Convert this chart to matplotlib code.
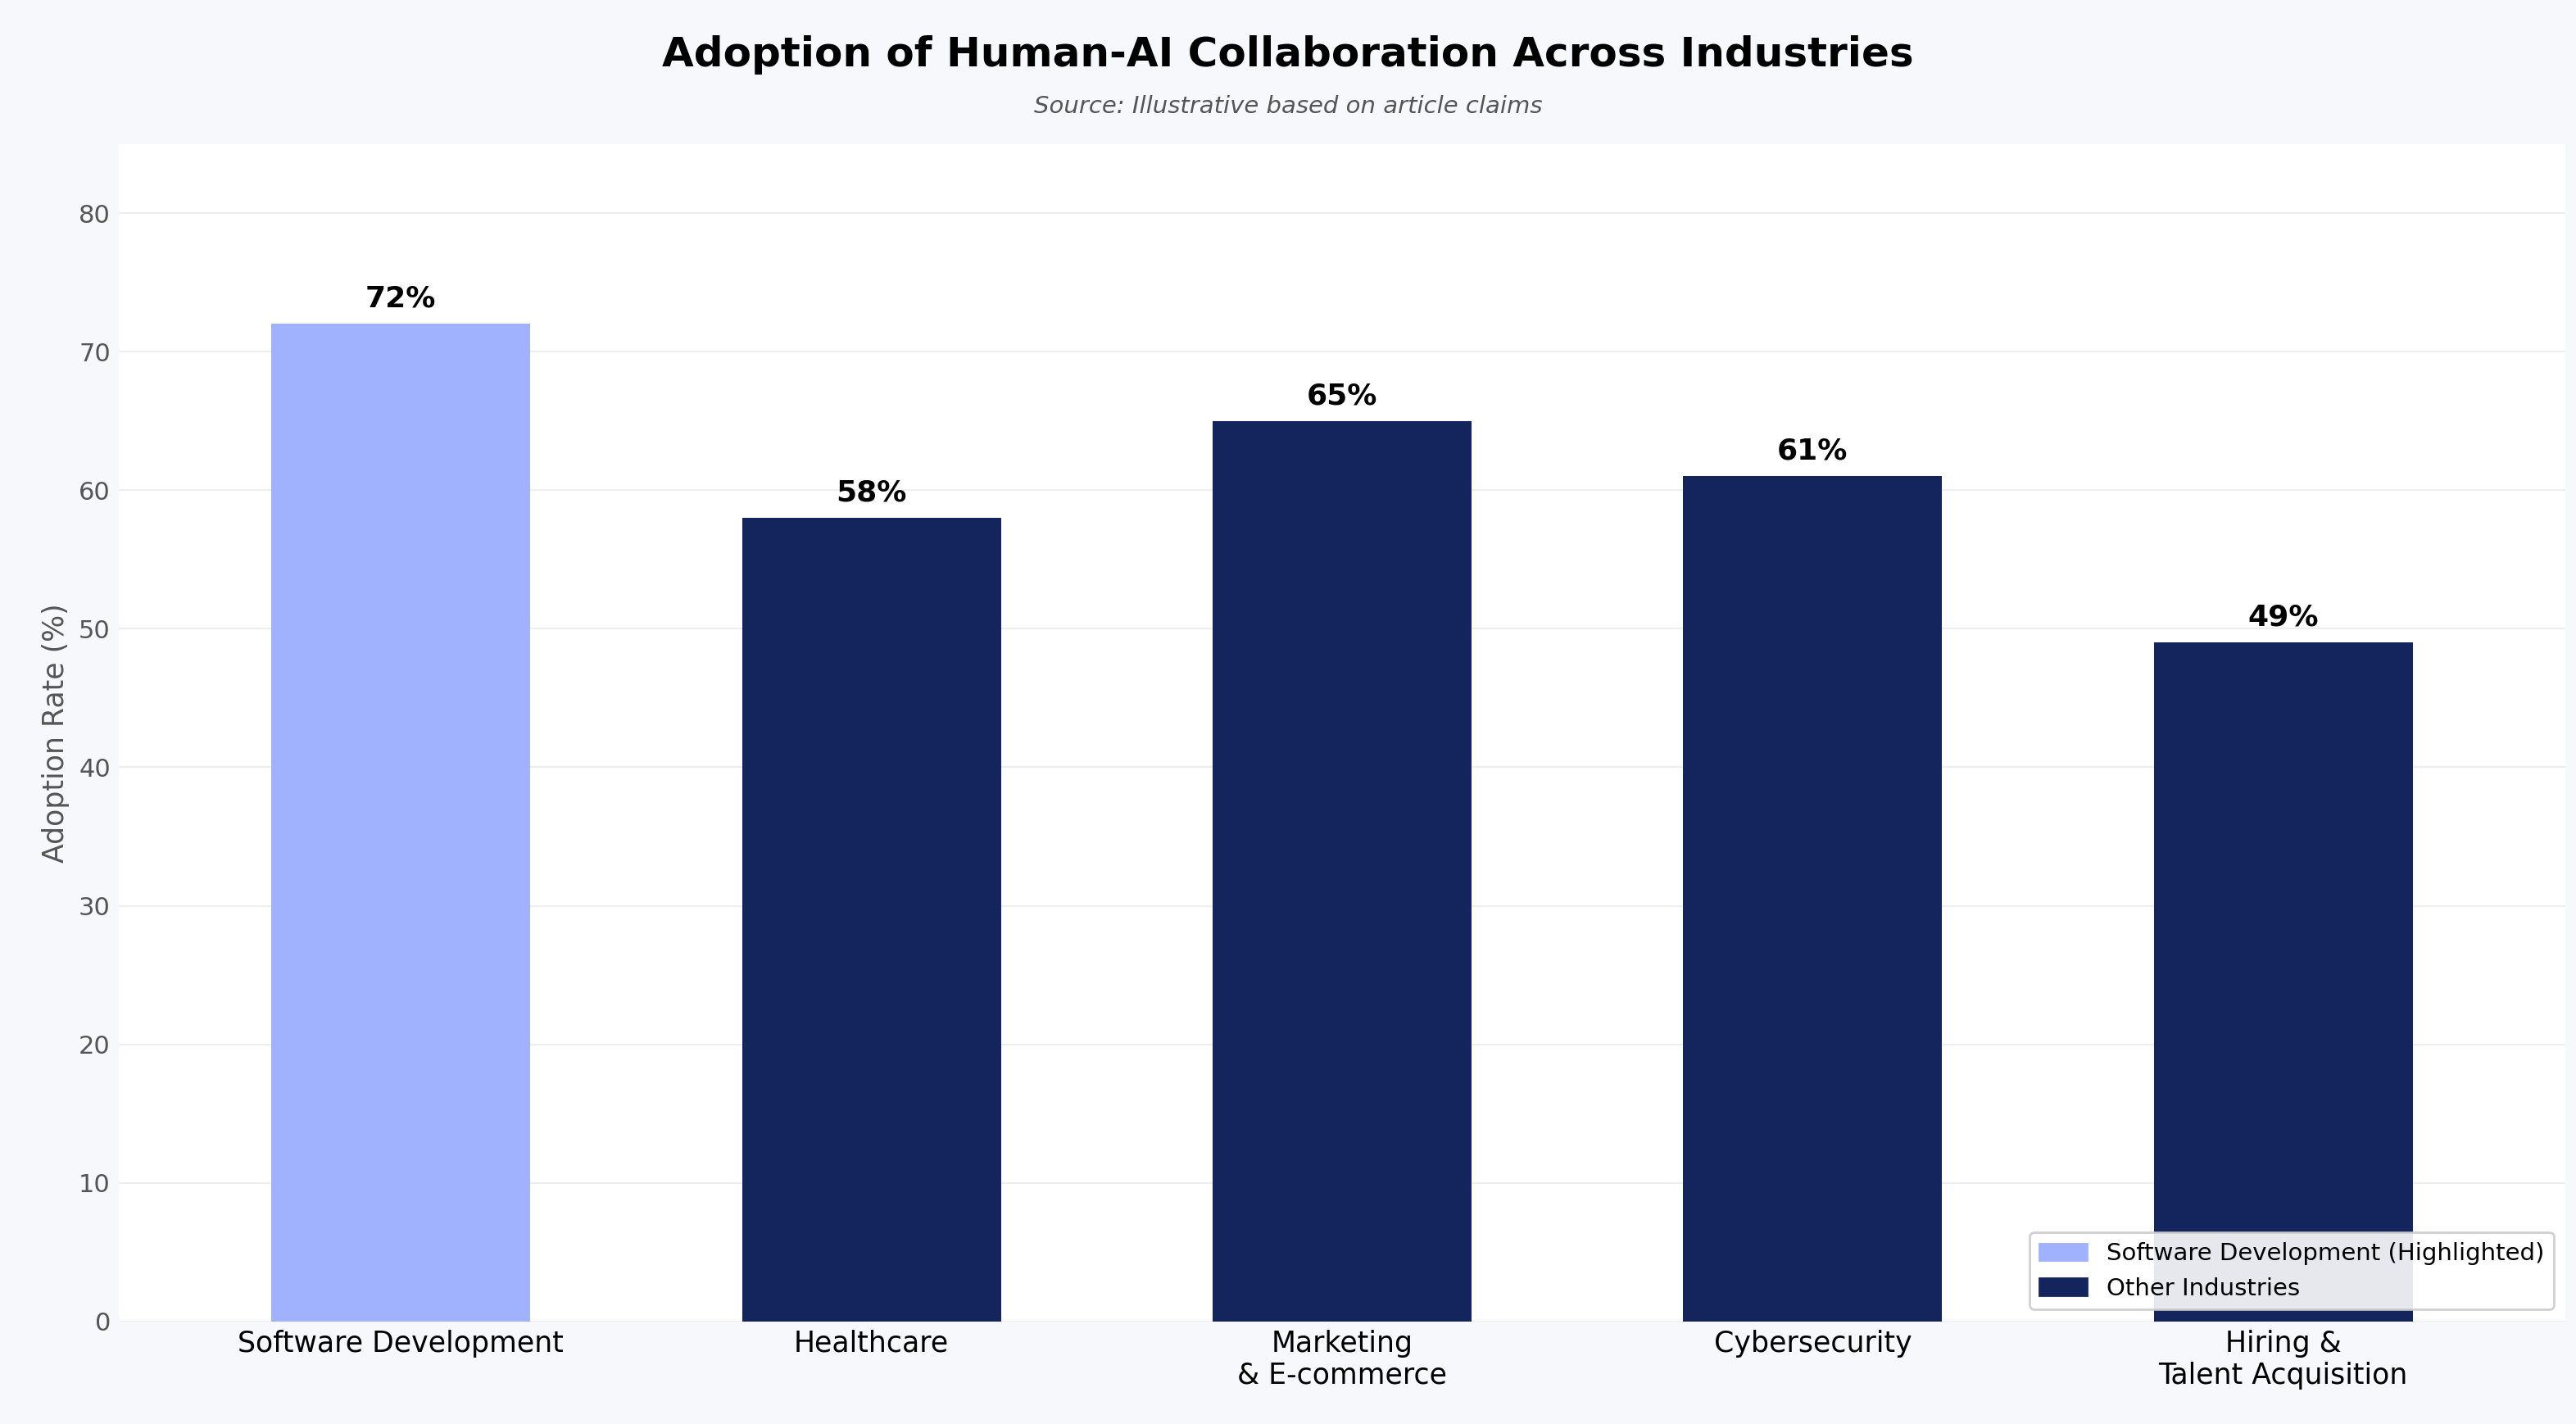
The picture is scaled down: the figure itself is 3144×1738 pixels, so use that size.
import matplotlib.pyplot as plt
import numpy as np

industries = ["Software Development", "Healthcare", "Marketing\n& E-commerce",
              "Cybersecurity", "Hiring &\nTalent Acquisition"]
rates = [72, 58, 65, 61, 49]
highlight = [True, False, False, False, False]

hi_color = "#a0b1fd"
other_color = "#14245c"

fig = plt.figure(figsize=(15.72, 8.69), dpi=200, facecolor="#f7f8fc")
ax = fig.add_axes([0.046, 0.072, 0.95, 0.827])
ax.set_facecolor("white")

x = np.arange(len(industries))
colors = [hi_color if h else other_color for h in highlight]
bars = ax.bar(x, rates, width=0.55, color=colors, zorder=3)

for xi, r in zip(x, rates):
    ax.text(xi, r + 0.8, f"{r}%", ha="center", va="bottom",
            fontsize=13, fontweight="bold", zorder=4)

ax.set_xticks(x)
ax.set_xticklabels(industries, fontsize=12.5)
ax.set_ylim(0, 85)
ax.set_xlim(-0.6, 4.6)
ax.set_yticks(range(0, 81, 10))
ax.tick_params(axis="y", labelsize=11, colors="#555555", length=0)
ax.tick_params(axis="x", length=0)
ax.set_ylabel("Adoption Rate (%)", fontsize=12.5, color="#555555")
ax.grid(axis="y", color="#eeeeee", linewidth=0.8, zorder=0)
for s in ax.spines.values():
    s.set_visible(False)

from matplotlib.patches import Patch
ax.legend(handles=[Patch(color=hi_color, label="Software Development (Highlighted)"),
                   Patch(color=other_color, label="Other Industries")],
          loc="lower right", fontsize=10.5, framealpha=0.9)

fig.text(0.5, 0.975, "Adoption of Human-AI Collaboration Across Industries",
         ha="center", va="top", fontsize=18, fontweight="bold")
fig.text(0.5, 0.925, "Source: Illustrative based on article claims",
         ha="center", va="center", fontsize=10.5, style="italic", color="#555555")

fig.savefig("out.png", dpi=200, facecolor=fig.get_facecolor())
